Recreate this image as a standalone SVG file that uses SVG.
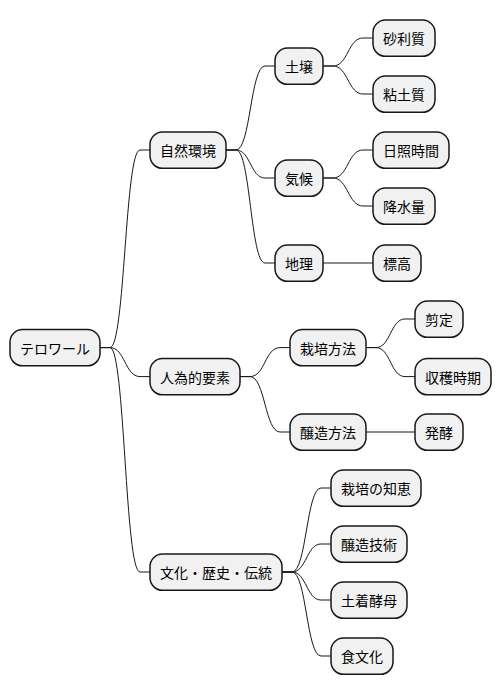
<svg xmlns="http://www.w3.org/2000/svg" width="502" height="696" viewBox="0 0 502 696">
<style>
.n rect{fill:#F1F1F1;stroke:#181818;stroke-width:1.5}
.n text{font-family:"Noto Sans CJK JP","Noto Sans",sans-serif;font-size:14px;fill:#000;text-anchor:middle;dominant-baseline:central}
#connectors path{fill:none;stroke:#181818;stroke-width:1}
</style>
<rect width="502" height="696" fill="#FFFFFF"/>
<g id="connectors">
<path d="M100,347.6 L110,347.6 C125,347.6 125,150 140,150 L150,150"/>
<path d="M100,347.6 L110,347.6 C125,347.6 125,376.6 140,376.6 L150,376.6"/>
<path d="M100,347.6 L110,347.6 C125,347.6 125,572 140,572 L150,572"/>
<path d="M226,150 L236,150 C250.5,150 250.5,66 265,66 L275,66"/>
<path d="M226,150 L236,150 C250.5,150 250.5,178 265,178 L275,178"/>
<path d="M226,150 L236,150 C250.5,150 250.5,263 265,263 L275,263"/>
<path d="M323,66 L333,66 C348,66 348,38 363,38 L373,38"/>
<path d="M323,66 L333,66 C348,66 348,94 363,94 L373,94"/>
<path d="M323,178 L333,178 C348,178 348,150 363,150 L373,150"/>
<path d="M323,178 L333,178 C348,178 348,206 363,206 L373,206"/>
<path d="M323,263 L373,263"/>
<path d="M240,376.6 L250,376.6 C265,376.6 265,347.6 280,347.6 L290,347.6"/>
<path d="M240,376.6 L250,376.6 C265,376.6 265,432 280,432 L290,432"/>
<path d="M366,347.6 L376,347.6 C390.5,347.6 390.5,319 405,319 L415,319"/>
<path d="M366,347.6 L376,347.6 C390.5,347.6 390.5,376.6 405,376.6 L415,376.6"/>
<path d="M366,432 L415,432"/>
<path d="M282,572 L292,572 C306.5,572 306.5,488 321,488 L331,488"/>
<path d="M282,572 L292,572 C306.5,572 306.5,544 321,544 L331,544"/>
<path d="M282,572 L292,572 C306.5,572 306.5,600 321,600 L331,600"/>
<path d="M282,572 L292,572 C306.5,572 306.5,656 321,656 L331,656"/>
</g>
<g id="root" class="n"><rect x="10" y="329.5" width="90" height="36.3" rx="12.5"/><text x="55" y="347.6">テロワール</text></g>
<g id="shizen" class="n"><rect x="150" y="132" width="76" height="36.3" rx="12.5"/><text x="188" y="150">自然環境</text></g>
<g id="jini" class="n"><rect x="150" y="358.5" width="90" height="36.3" rx="12.5"/><text x="195" y="376.6">人為的要素</text></g>
<g id="bunka" class="n"><rect x="150" y="554" width="132" height="36.3" rx="12.5"/><text x="216" y="572">文化・歴史・伝統</text></g>
<g id="dojo" class="n"><rect x="275" y="48" width="48" height="36.3" rx="12.5"/><text x="299" y="66">土壌</text></g>
<g id="kiko" class="n"><rect x="275" y="160" width="48" height="36.3" rx="12.5"/><text x="299" y="178">気候</text></g>
<g id="chiri" class="n"><rect x="275" y="245" width="48" height="36.3" rx="12.5"/><text x="299" y="263">地理</text></g>
<g id="jari" class="n"><rect x="373" y="20" width="62" height="36.3" rx="12.5"/><text x="404" y="38">砂利質</text></g>
<g id="nendo" class="n"><rect x="373" y="76" width="62" height="36.3" rx="12.5"/><text x="404" y="94">粘土質</text></g>
<g id="nissho" class="n"><rect x="373" y="132" width="76" height="36.3" rx="12.5"/><text x="411" y="150">日照時間</text></g>
<g id="kosui" class="n"><rect x="373" y="188" width="62" height="36.3" rx="12.5"/><text x="404" y="206">降水量</text></g>
<g id="hyoko" class="n"><rect x="373" y="245" width="48" height="36.3" rx="12.5"/><text x="397" y="263">標高</text></g>
<g id="saibai" class="n"><rect x="290" y="329.5" width="76" height="36.3" rx="12.5"/><text x="328" y="347.6">栽培方法</text></g>
<g id="sentei" class="n"><rect x="415" y="301" width="48" height="36.3" rx="12.5"/><text x="439" y="319">剪定</text></g>
<g id="shukaku" class="n"><rect x="415" y="358.5" width="76" height="36.3" rx="12.5"/><text x="453" y="376.6">収穫時期</text></g>
<g id="jozo" class="n"><rect x="290" y="414" width="76" height="36.3" rx="12.5"/><text x="328" y="432">醸造方法</text></g>
<g id="hakko" class="n"><rect x="415" y="414" width="48" height="36.3" rx="12.5"/><text x="439" y="432">発酵</text></g>
<g id="chie" class="n"><rect x="331" y="470" width="90" height="36.3" rx="12.5"/><text x="376" y="488">栽培の知恵</text></g>
<g id="gijutsu" class="n"><rect x="331" y="526" width="76" height="36.3" rx="12.5"/><text x="369" y="544">醸造技術</text></g>
<g id="kobo" class="n"><rect x="331" y="582" width="76" height="36.3" rx="12.5"/><text x="369" y="600">土着酵母</text></g>
<g id="shoku" class="n"><rect x="331" y="638" width="62" height="36.3" rx="12.5"/><text x="362" y="656">食文化</text></g>
</svg>
